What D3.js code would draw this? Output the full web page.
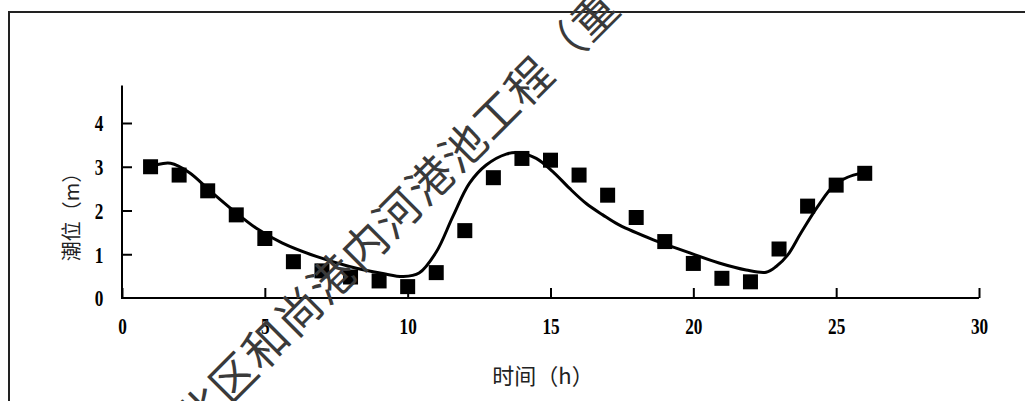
<!DOCTYPE html>
<html>
<head>
<meta charset="utf-8">
<script src="https://cdn.jsdelivr.net/npm/d3@7/dist/d3.min.js"></script>
<style>
  html, body { margin: 0; padding: 0; background: #fff; }
  svg { display: block; }
</style>
</head>
<body>
<svg id="chart" width="1025" height="401"></svg>
<script>
// ---- data ----
const hours = [1,2,3,4,5,6,7,8,9,10,11,12,13,14,15,16,17,18,19,20,21,22,23,24,25,26];
const measured = [3.00,2.81,2.45,1.90,1.36,0.83,0.62,0.48,0.39,0.26,0.58,1.54,2.75,3.19,3.15,2.81,2.35,1.84,1.29,0.79,0.45,0.37,1.12,2.10,2.58,2.85];
const curveX = [1.25,1.7,2.35,3.05,3.86,4.69,5.6,6.8,7.96,9.13,9.85,10.4,11.0,11.58,12.16,12.75,13.45,13.9,14.5,15.08,15.66,16.25,16.83,17.4,18.6,19.75,20.9,21.85,22.55,22.9,23.3,23.76,24.35,24.93,25.4,25.9];
const curveY = [3.05,3.08,2.87,2.47,2.02,1.60,1.26,0.95,0.72,0.56,0.49,0.57,1.05,1.86,2.62,3.04,3.29,3.32,3.19,2.89,2.51,2.16,1.90,1.67,1.33,1.06,0.80,0.64,0.59,0.72,0.98,1.48,2.09,2.58,2.76,2.86];
const xTicks = [0,5,10,15,20,25,30];
const yTicks = [0,1,2,3,4];
const xTitle = "时间（h）";
const yTitle = "潮位（m）";
const watermark = "北区和尚港内河港池工程（重";

const svg = d3.select("#chart");

// frame
svg.append("path")
  .attr("d", "M9,401 L9,12 L1025,12")
  .attr("fill", "none").attr("stroke", "#222").attr("stroke-width", 2);

const x = d3.scaleLinear().domain([0, 30]).range([122, 979]);
const y = d3.scaleLinear().domain([0, 4]).range([298, 123]);
const yTop = y(4.86);

const g = svg.append("g");
const numFont = "'Liberation Serif', 'Times New Roman', serif";
const sx = 0.75;

// axes
const xAxis = d3.axisBottom(x).tickValues(xTicks).tickFormat(d3.format("d"))
  .tickSizeInner(-10).tickSizeOuter(0).tickPadding(29);
const gx = g.append("g").attr("transform", `translate(0,${y(0)})`).call(xAxis);
gx.select(".domain").remove();
gx.append("line").attr("x1", x(0)).attr("x2", x(30)).attr("y1", 0).attr("y2", 0)
  .attr("stroke", "#000").attr("stroke-width", 2);
gx.selectAll(".tick line").attr("stroke", "#000").attr("stroke-width", 2);
gx.selectAll(".tick text")
  .attr("font-family", numFont)
  .attr("font-weight", "bold").attr("font-size", 23).attr("fill", "#000")
  .attr("dy", "0.3em")
  .attr("transform", `scale(${sx},1)`)
  .attr("x", 0);

const yAxis = d3.axisLeft(y).tickValues(yTicks).tickFormat(d3.format("d"))
  .tickSizeInner(-10).tickSizeOuter(0).tickPadding(0);
const gy = g.append("g").attr("transform", `translate(${x(0)},0)`).call(yAxis);
gy.select(".domain").remove();
gy.append("line").attr("x1", 0).attr("x2", 0).attr("y1", y(0) + 1).attr("y2", yTop)
  .attr("stroke", "#000").attr("stroke-width", 2);
gy.selectAll(".tick line").attr("stroke", "#000").attr("stroke-width", 2);
gy.selectAll(".tick").filter(d => d === 0).select("line").remove();
gy.selectAll(".tick text")
  .attr("font-family", numFont)
  .attr("font-weight", "bold").attr("font-size", 23).attr("fill", "#000")
  .attr("text-anchor", "middle")
  .attr("x", -23 / sx)
  .attr("dy", "0.34em")
  .attr("transform", `scale(${sx},1)`);

// fitted curve
const line = d3.line().x(d => x(d[0])).y(d => y(d[1])).curve(d3.curveCatmullRom.alpha(0.5));
g.append("path")
  .datum(curveX.map((v, i) => [v, curveY[i]]))
  .attr("d", line)
  .attr("fill", "none").attr("stroke", "#000").attr("stroke-width", 3)
  .attr("stroke-linecap", "round").attr("stroke-linejoin", "round");

// measured points
const sz = 15;
g.selectAll("rect.pt")
  .data(hours.map((h, i) => [h, measured[i]]))
  .join("rect").attr("class", "pt")
  .attr("x", d => x(d[0]) - sz / 2)
  .attr("y", d => y(d[1]) - sz / 2)
  .attr("width", sz).attr("height", sz)
  .attr("fill", "#000");

// axis titles
g.append("text")
  .attr("x", 543).attr("y", 384)
  .attr("text-anchor", "middle")
  .attr("font-family", "'Noto Sans CJK SC', sans-serif")
  .attr("font-size", 22).attr("fill", "#222")
  .text(xTitle);

g.append("text")
  .attr("transform", `translate(79,${212}) rotate(-90)`)
  .attr("text-anchor", "middle")
  .attr("font-family", "'Noto Sans CJK SC', sans-serif")
  .attr("font-size", 20).attr("fill", "#222")
  .text(yTitle);

// watermark
svg.append("text")
  .attr("transform", "translate(196,438) rotate(-45)")
  .attr("font-family", "'Noto Sans CJK SC', sans-serif")
  .attr("font-size", 45)
  .attr("fill", "#3a3a3a")
  .attr("letter-spacing", 1.5)
  .text(watermark);
</script>
</body>
</html>
